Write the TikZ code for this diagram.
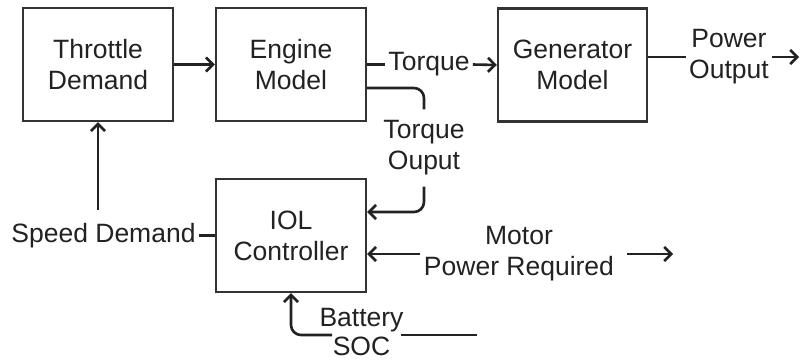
\documentclass[tikz,border=0pt]{standalone}
\usepackage{fontspec}
\setmainfont{Liberation Sans}
\usetikzlibrary{arrows.meta}
\definecolor{ink}{HTML}{222222}
\definecolor{boxline}{HTML}{333333}
\begin{document}
\begin{tikzpicture}[x=1pt,y=-1pt,
  line width=2.6pt, draw=ink,
  box/.style={draw=boxline, line width=2.4pt, minimum width=150pt, minimum height=113pt,
    align=center, font=\fontsize{26.5}{31}\selectfont, text=ink, inner sep=0pt},
  lbl/.style={align=center, font=\fontsize{26.5}{31}\selectfont, text=ink, inner sep=2pt},
  arr/.style={-{Straight Barb[length=7pt,width=14pt]}}]
\useasboundingbox (0,0) rectangle (800,362);
\fill[white] (0,0) rectangle (800,362);

\node[box] (td) at (98,64.5) {Throttle\\Demand};
\node[box] (em) at (291,64.5) {Engine\\Model};
\node[box, minimum width=149pt] (gm) at (572.5,65) {Generator\\Model};
\node[box] (iol) at (291,235.5) {IOL\\Controller};

\node[lbl] (tq) at (429,64.5) {Torque};
\node[lbl, inner ysep=10pt] (tqo) at (424,148) {Torque\\Ouput};
\node[lbl] (mpr) at (519,254) {Motor\\Power Required};
\node[lbl] (po) at (729,57) {Power\\Output};
\node[lbl] (sd) at (103.5,235.5) {Speed Demand};
\node[lbl, font=\fontsize{26.5}{29}\selectfont] (bs) at (361.5,332) {Battery\\SOC};

\coordinate (pout) at (799,57);
\coordinate (mout) at (673,254);
\coordinate (bend) at (477,335);

\draw[arr] (td.east) -- (em.west);
\draw (em.east) -- (tq.west);
\draw[arr] (tq.east) -- (gm.west);
\draw[rounded corners=10pt] ([yshift=-23.5pt]em.east) -| (tqo.north);
\draw[arr, rounded corners=10pt] (tqo.south) |- ([yshift=23.5pt]iol.east);
\draw[arr] ([xshift=-1pt]mpr.west) -- ([yshift=-18.5pt]iol.east);
\draw[arr] ([xshift=10pt]mpr.east) -- (mout);
\draw ([yshift=8pt]gm.east) -- (po.west);
\draw[arr] (po.east) -- (pout);
\draw (sd.east) -- (iol.west);
\draw[arr] ([yshift=10pt]sd.north -| td.south) -- (td.south);
\draw[arr, rounded corners=10pt] ([xshift=16pt,yshift=-3pt]bs.west) -| (iol.south);
\draw ([xshift=-6pt,yshift=-3pt]bs.east) -- (bend);
\end{tikzpicture}
\end{document}
